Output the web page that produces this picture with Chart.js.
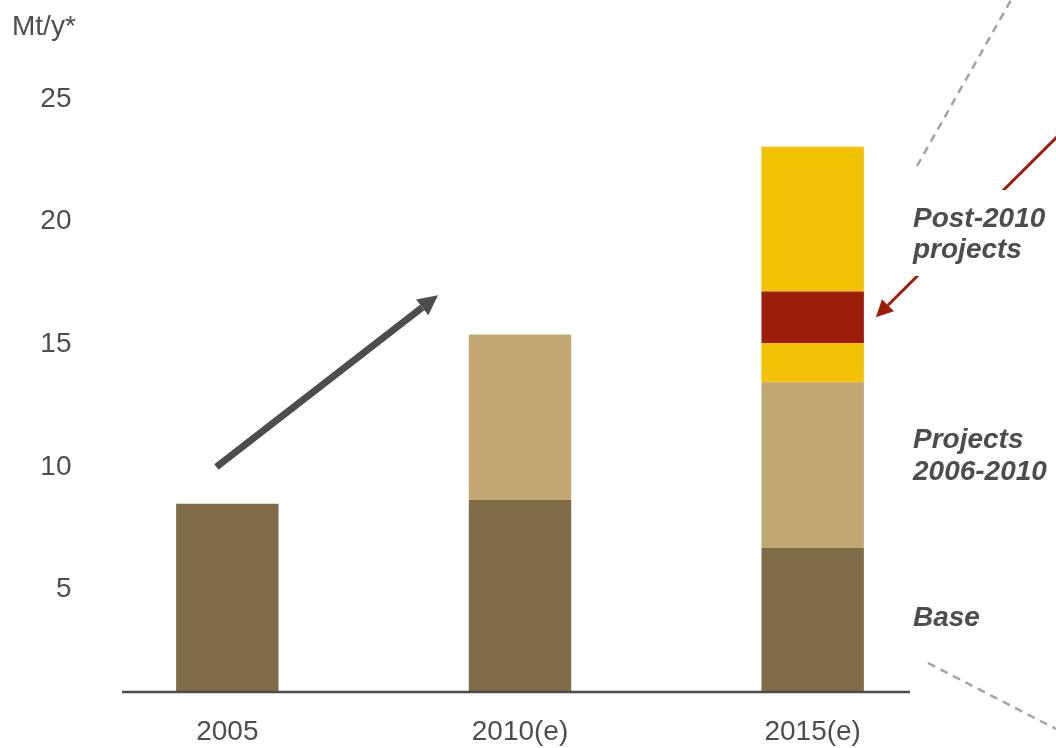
<!DOCTYPE html>
<html lang="en">
<head>
    <meta charset="UTF-8">
    <title>Mt/y capacity</title>
    <script src="https://cdn.jsdelivr.net/npm/chart.js"></script>
    <style>
        html, body { margin: 0; padding: 0; background: #fff; }
        #wrap { width: 1056px; height: 748px; }
    </style>
</head>
<body>
    <div id="wrap"><canvas id="capChart" width="1056" height="748"></canvas></div>
    <script>
// values per year, Mt/y
const categories = ['2005', '2010(e)', '2015(e)'];
const baseValues = [8.5, 8.65, 6.7];
const projects0610 = [0, 6.75, 6.75];
const post2010Lower = [0, 0, 1.6];
const post2010Highlight = [0, 0, 2.1];
const post2010Upper = [0, 0, 5.9];
const yTicks = [5, 10, 15, 20, 25];

const textColor = '#4d4d4d';
const fontName = '"Liberation Sans", Arial, sans-serif';

function arrow(ctx, x0, y0, x1, y1, width, headLen, headHalf, color) {
    const ang = Math.atan2(y1 - y0, x1 - x0);
    const bx = x1 - Math.cos(ang) * headLen;
    const by = y1 - Math.sin(ang) * headLen;
    ctx.save();
    ctx.strokeStyle = color;
    ctx.fillStyle = color;
    ctx.lineWidth = width;
    ctx.beginPath();
    ctx.moveTo(x0, y0);
    ctx.lineTo(bx, by);
    ctx.stroke();
    ctx.beginPath();
    ctx.moveTo(x1, y1);
    ctx.lineTo(bx + Math.sin(ang) * headHalf, by - Math.cos(ang) * headHalf);
    ctx.lineTo(bx - Math.sin(ang) * headHalf, by + Math.cos(ang) * headHalf);
    ctx.closePath();
    ctx.fill();
    ctx.restore();
}

function dashed(ctx, x0, y0, x1, y1) {
    ctx.save();
    ctx.strokeStyle = '#a3a3a3';
    ctx.lineWidth = 2.5;
    ctx.setLineDash([8, 6]);
    ctx.beginPath();
    ctx.moveTo(x0, y0);
    ctx.lineTo(x1, y1);
    ctx.stroke();
    ctx.restore();
}

const annotations = {
    id: 'annotations',
    afterDatasetsDraw(chart) {
        const ctx = chart.ctx;
        const xs = chart.scales.x;
        const ys = chart.scales.y;

        // axis line
        ctx.save();
        ctx.strokeStyle = textColor;
        ctx.lineWidth = 2.5;
        ctx.beginPath();
        ctx.moveTo(122, ys.bottom + 1);
        ctx.lineTo(910, ys.bottom + 1);
        ctx.stroke();
        ctx.restore();

        // unit label
        ctx.save();
        ctx.fillStyle = textColor;
        ctx.font = '28px ' + fontName;
        ctx.textBaseline = 'alphabetic';
        ctx.fillText('Mt/y*', 12, 35);
        ctx.restore();

        // growth arrow
        arrow(ctx, xs.getPixelForValue(0) - 11, ys.getPixelForValue(10),
              xs.getPixelForValue(1) - 82, ys.getPixelForValue(17),
              7, 20, 10, textColor);

        // callout lines
        dashed(ctx, 917, 166, 1011, 0);
        dashed(ctx, 928, 663, 1056, 729);

        // red arrow pointing at highlighted slice
        const seg = chart.getDatasetMeta(3).data[2];
        const tipX = seg.x + seg.width / 2 + 12;
        const tipY = (seg.y + seg.base) / 2;
        arrow(ctx, 1062, 132, tipX, tipY, 3, 17, 8.5, '#9c1e0a');

        // white box behind post-2010 label
        ctx.save();
        ctx.fillStyle = '#fff';
        ctx.fillRect(906, 190, 150, 86);
        ctx.restore();

        ctx.save();
        ctx.fillStyle = textColor;
        ctx.font = 'italic bold 28px ' + fontName;
        ctx.textBaseline = 'alphabetic';
        ctx.fillText('Post-2010', 913, 227);
        ctx.fillText('projects', 913, 258);
        ctx.fillText('Projects', 913, 448);
        ctx.fillText('2006-2010', 913, 480);
        ctx.fillText('Base', 913, 626);
        ctx.restore();
    }
};

const ctx = document.getElementById('capChart').getContext('2d');
new Chart(ctx, {
    type: 'bar',
    data: {
        labels: categories,
        datasets: [
            { label: 'Base', data: baseValues, backgroundColor: '#806c48' },
            { label: 'Projects 2006-2010', data: projects0610, backgroundColor: '#c1a872' },
            { label: 'Post-2010 projects', data: post2010Lower, backgroundColor: '#f3c204' },
            { label: 'Post-2010 projects (highlight)', data: post2010Highlight, backgroundColor: '#9c1e0a' },
            { label: 'Post-2010 projects', data: post2010Upper, backgroundColor: '#f3c204' }
        ]
    },
    options: {
        responsive: false,
        animation: false,
        layout: { padding: { top: 40, right: 97, bottom: 0, left: 0 } },
        datasets: { bar: { barPercentage: 1, categoryPercentage: 0.35 } },
        plugins: { legend: { display: false }, tooltip: { enabled: false } },
        scales: {
            x: {
                stacked: true,
                grid: { display: false, drawTicks: false },
                border: { display: false },
                ticks: { color: textColor, padding: 24, font: { family: fontName, size: 28 } },
                afterFit(scale) { scale.height = 57; }
            },
            y: {
                stacked: true,
                min: 0.87,
                max: 27.4,
                grid: { display: false, drawTicks: false },
                border: { display: false },
                ticks: {
                    color: textColor,
                    padding: 9.5,
                    font: { family: fontName, size: 28 },
                    callback: v => String(v)
                },
                afterBuildTicks(scale) { scale.ticks = yTicks.map(v => ({ value: v })); },
                afterFit(scale) { scale.width = 81; }
            }
        }
    },
    plugins: [annotations]
});
    </script>
</body>
</html>
